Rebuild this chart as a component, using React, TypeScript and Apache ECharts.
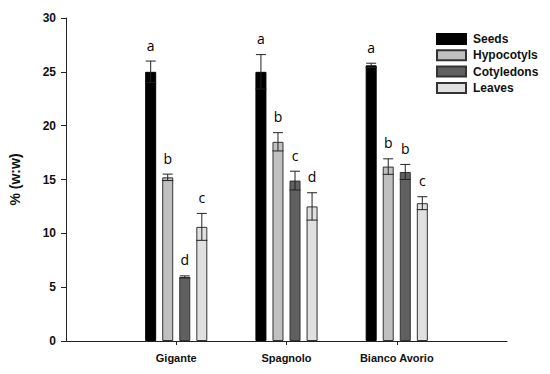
import React, { useEffect, useRef } from "react";
import * as echarts from "echarts";

const categories = ["", "Gigante", "Spagnolo", "Bianco Avorio", ""];
const groups = ["Gigante", "Spagnolo", "Bianco Avorio"];
const seriesNames = ["Seeds", "Hypocotyls", "Cotyledons", "Leaves"];
const seeds = [25.0, 25.0, 25.6];
const hypocotyls = [15.2, 18.5, 16.2];
const cotyledons = [5.95, 14.9, 15.7];
const leaves = [10.6, 12.5, 12.8];
const seedsErr = [1.0, 1.6, 0.2];
const hypocotylsErr = [0.3, 0.85, 0.72];
const cotyledonsErr = [0.1, 0.87, 0.7];
const leavesErr = [1.25, 1.27, 0.6];
const seedsLetters = ["a", "a", "a"];
const hypocotylsLetters = ["b", "b", "b"];
const cotyledonsLetters = ["d", "c", "b"];
const leavesLetters = ["c", "d", "c"];
const yTicks = [0, 5, 10, 15, 20, 25, 30];

const values = [seeds, hypocotyls, cotyledons, leaves];
const errors = [seedsErr, hypocotylsErr, cotyledonsErr, leavesErr];
const letters = [seedsLetters, hypocotylsLetters, cotyledonsLetters, leavesLetters];
const colors = ["#000000", "#c0c0c0", "#606060", "#e0e0e0"];

const BAR_W = 11;
const GAP = 0.55;

export default function App() {
  const ref = useRef<HTMLDivElement>(null);
  useEffect(() => {
    if (!ref.current) return;
    const chart = echarts.init(ref.current, null, { renderer: "svg" });

    const barSeries = seriesNames.map((name, s) => ({
      name,
      type: "bar",
      data: [null, ...values[s], null],
      barWidth: BAR_W,
      barGap: GAP * 100 + "%",
      itemStyle: { color: colors[s], borderColor: s === 0 ? "#000" : "#333", borderWidth: 1 },
      z: 2,
    }));

    const errData: any[] = [];
    const errLetters: string[] = [];
    seriesNames.forEach((_, s) => {
      groups.forEach((g, gi) => {
        errData.push([g, values[s][gi], errors[s][gi], s]);
        errLetters.push(letters[s][gi]);
      });
    });

    const pitch = BAR_W * (1 + GAP);

    const errSeries = {
      type: "custom",
      name: "err",
      z: 5,
      clip: false,
      encode: { x: 0, y: 1 },
      data: errData,
      renderItem: (params: any, api: any) => {
        const cat = api.value(0);
        const val = api.value(1);
        const err = api.value(2);
        const s = api.value(3);
        const base = api.coord([cat, val]);
        const x = base[0] + (s - 1.5) * pitch;
        const top = api.coord([cat, val + err])[1];
        const bot = api.coord([cat, val - err])[1];
        const stroke = { stroke: "#222", lineWidth: 1, fill: null };
        return {
          type: "group",
          children: [
            { type: "line", shape: { x1: x, y1: top, x2: x, y2: bot }, style: stroke },
            { type: "line", shape: { x1: x - 5, y1: top, x2: x + 5, y2: top }, style: stroke },
            { type: "line", shape: { x1: x - BAR_W / 2, y1: bot, x2: x + BAR_W / 2, y2: bot }, style: stroke },
            {
              type: "text",
              x,
              y: top - 16,
              style: {
                text: errLetters[params.dataIndex],
                fill: "#000000",
                fontFamily: "Open Sans",
                fontSize: 14,
                align: "center",
                verticalAlign: "middle",
              },
            },
          ],
        };
      },
    };

    chart.setOption({
      animation: false,
      grid: { left: 59, right: 43, top: 18, bottom: 33, containLabel: false },
      legend: {
        data: seriesNames,
        orient: "vertical",
        left: 431,
        top: 28,
        itemWidth: 29,
        itemHeight: 10,
        itemGap: 4.3,
        icon: "rect",
        textStyle: {
          fontFamily: "'Liberation Sans', Arial",
          fontWeight: "bold",
          fontSize: 12,
          color: "#111",
          lineHeight: 12,
          padding: [0, 0, 0, 2],
        },
      },
      xAxis: {
        type: "category",
        data: categories,
        boundaryGap: false,
        axisLine: { lineStyle: { color: "#222", width: 1 } },
        axisTick: { length: 4, interval: (i: number) => i >= 1 && i <= 3, lineStyle: { color: "#222" } },
        axisLabel: {
          interval: 0,
          margin: 11,
          fontFamily: "'Liberation Sans', Arial",
          fontWeight: "bold",
          fontSize: 11,
          color: "#111",
        },
        splitLine: { show: false },
      },
      yAxis: {
        type: "value",
        min: yTicks[0],
        max: yTicks[yTicks.length - 1],
        interval: 5,
        name: "% (w:w)",
        nameLocation: "middle",
        nameGap: 44,
        nameRotate: 90,
        nameTextStyle: {
          fontFamily: "'Liberation Sans', Arial",
          fontWeight: "bold",
          fontSize: 14,
          color: "#111",
        },
        axisLine: { show: true, lineStyle: { color: "#222", width: 1 } },
        axisTick: { show: true, length: 5, lineStyle: { color: "#222" } },
        axisLabel: {
          margin: 10,
          fontFamily: "'Liberation Sans', Arial",
          fontWeight: "bold",
          fontSize: 12,
          color: "#111",
        },
        splitLine: { show: false },
      },
      series: [...barSeries, errSeries],
    });
    return () => chart.dispose();
  }, []);
  return <div ref={ref} style={{ width: 550, height: 374, position: "absolute", left: 0, top: 0 }} />;
}
